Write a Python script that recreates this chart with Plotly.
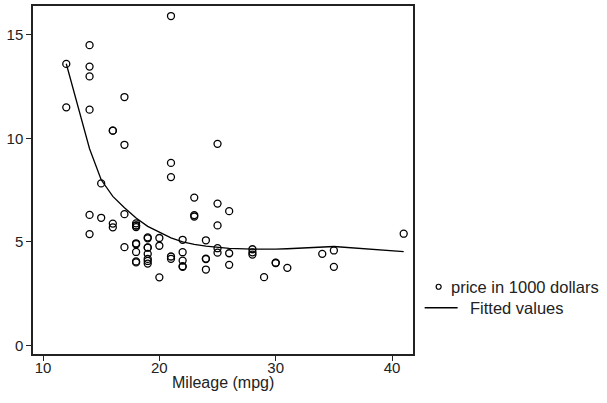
import plotly.graph_objects as go

# Scatter data: mileage (mpg) and price in 1000 dollars
mpg = [22, 17, 22, 20, 15, 18, 26, 20, 16, 19, 14, 14, 21, 29, 16, 22, 22, 24, 19, 30,
       18, 16, 17, 28, 21, 12, 12, 14, 22, 14, 15, 18, 14, 20, 21, 19, 19, 18, 19, 24,
       16, 28, 34, 25, 26, 18, 18, 18, 19, 19, 19, 24, 17, 23, 25, 23, 35, 24, 21, 25,
       28, 30, 14, 26, 35, 18, 31, 18, 23, 41, 25, 25, 17, 21]
price = [4.099, 4.749, 3.799, 4.816, 7.827, 5.788, 4.453, 5.189, 10.372, 4.082, 11.385, 14.500,
         15.906, 3.299, 5.705, 4.504, 5.104, 3.667, 3.955, 3.984, 4.010, 5.886, 6.342, 4.389,
         4.187, 11.497, 13.594, 13.466, 3.829, 5.379, 6.165, 4.516, 6.303, 3.291, 8.814, 5.172,
         4.733, 4.890, 4.181, 4.195, 10.371, 4.647, 4.425, 4.482, 6.486, 4.060, 5.798, 4.934,
         5.222, 4.723, 4.424, 4.172, 9.690, 6.295, 9.735, 6.229, 4.589, 5.079, 8.129, 5.799,
         4.499, 3.995, 12.990, 3.895, 3.798, 5.899, 3.748, 5.719, 7.140, 5.397, 4.697, 6.850,
         11.995, 4.296]

# Fitted values
fit_mpg = [12, 14, 15, 16, 17, 18, 19, 20, 21, 22, 23, 24, 25, 26, 28, 29, 30, 31, 34, 35, 41]
fit_val = [13.6, 9.5, 8.0, 7.2, 6.65, 6.15, 5.75, 5.47, 5.2, 5.0, 4.88, 4.8, 4.73, 4.69,
           4.65, 4.64, 4.65, 4.67, 4.75, 4.78, 4.53]

x_ticks = [10, 20, 30, 40]
y_ticks = [0, 5, 10, 15]

FONT = "Liberation Sans, Arial, sans-serif"

fig = go.Figure()
fig.add_trace(go.Scatter(
    x=mpg, y=price, mode="markers", name="price in 1000 dollars",
    marker=dict(symbol="circle-open", size=7, color="black", line=dict(width=1.3)),
    showlegend=False,
))
fig.add_trace(go.Scatter(
    x=fit_mpg, y=fit_val, mode="lines", name="Fitted values",
    line=dict(color="black", width=1.3), showlegend=False,
))

axis_common = dict(
    showline=True, mirror=True, linecolor="#222", linewidth=1.5,
    ticks="outside", ticklen=5, tickcolor="#222", tickwidth=1,
    showgrid=False, zeroline=False,
    tickfont=dict(family=FONT, size=15, color="#222"),
)
fig.update_xaxes(range=[9.14, 41.8], tickvals=x_ticks, ticklabelstandoff=-6, **axis_common)
fig.update_yaxes(range=[-0.41, 16.39], tickvals=y_ticks, **axis_common)

# x-axis title
fig.add_annotation(text="Mileage (mpg)", xref="paper", yref="paper", x=0.5, y=-0.083,
                   xanchor="center", yanchor="middle", showarrow=False,
                   font=dict(family=FONT, size=16, color="#222"))

# Custom legend (outside plot area)
fig.add_shape(type="circle", xref="paper", yref="paper", xsizemode="pixel", ysizemode="pixel",
              xanchor=1.0675, yanchor=0.1932, x0=-2.5, x1=2.5, y0=-2.5, y1=2.5,
              line=dict(color="black", width=1.2))
fig.add_annotation(text="price in 1000 dollars", xref="paper", yref="paper", x=1.0946, y=0.1932,
                   xanchor="left", yanchor="middle", showarrow=False,
                   font=dict(family=FONT, size=16.5, color="#222"))
fig.add_shape(type="line", xref="paper", yref="paper", x0=1.0307, x1=1.1174, y0=0.1329, y1=0.1329,
              line=dict(color="black", width=1.3))
fig.add_annotation(text="Fitted values", xref="paper", yref="paper", x=1.1445, y=0.1329,
                   xanchor="left", yanchor="middle", showarrow=False,
                   font=dict(family=FONT, size=16.5, color="#222"))

fig.update_layout(
    width=607, height=403, autosize=False,
    margin=dict(l=33, r=194, t=6, b=49, autoexpand=False),
    paper_bgcolor="white", plot_bgcolor="white",
    showlegend=False,
)

fig.write_html("out.html", config={"displayModeBar": False},
               post_script="document.body.style.margin='0';document.body.style.overflow='hidden';")
